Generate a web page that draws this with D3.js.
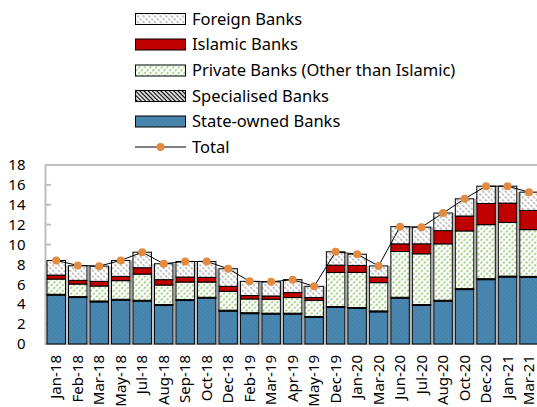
<!DOCTYPE html>
<html>
<head>
<meta charset="utf-8">
<script src="https://cdn.jsdelivr.net/npm/d3@7"></script>
<style>
  body { margin: 0; background: #fff; }
  svg { display: block; font-family: "Noto Sans", "Open Sans", sans-serif; }
</style>
</head>
<body>
<div id="chart"></div>
<script>
// chart size
var width = 537;
var height = 407;

// months on the x axis
const months = ["Jan-18", "Feb-18", "Mar-18", "May-18", "Jul-18", "Aug-18", "Sep-18", "Oct-18", "Dec-18",
  "Feb-19", "Mar-19", "Apr-19", "May-19", "Dec-19", "Jan-20", "Mar-20", "Jun-20", "Jul-20", "Aug-20",
  "Oct-20", "Dec-20", "Jan-21", "Mar-21"];

// values per bank group
const stateOwned  = [4.9, 4.67, 4.23, 4.4, 4.3, 3.87, 4.37, 4.6, 3.3, 3.05, 3.0, 3.0, 2.67, 3.67, 3.57, 3.23, 4.6, 3.87, 4.3, 5.47, 6.47, 6.73, 6.7];
const specialised = [0.1, 0.1, 0.1, 0.1, 0.1, 0.1, 0.1, 0.1, 0.1, 0.1, 0.1, 0.1, 0.1, 0.1, 0.1, 0.1, 0.1, 0.1, 0.1, 0.1, 0.1, 0.1, 0.1];
const privateBanks = [1.53, 1.26, 1.5, 1.87, 2.63, 1.96, 1.76, 1.53, 1.9, 1.38, 1.4, 1.57, 1.63, 3.43, 3.53, 2.84, 4.6, 5.1, 5.67, 5.8, 5.43, 5.4, 4.7];
const islamic     = [0.4, 0.37, 0.47, 0.43, 0.64, 0.54, 0.5, 0.47, 0.5, 0.34, 0.33, 0.5, 0.27, 0.73, 0.7, 0.56, 0.77, 1.0, 1.33, 1.5, 2.13, 1.94, 1.93];
const foreign     = [1.47, 1.47, 1.53, 1.6, 1.56, 1.6, 1.57, 1.6, 1.77, 1.43, 1.42, 1.3, 1.13, 1.34, 1.13, 1.12, 1.73, 1.68, 1.77, 1.73, 1.74, 1.7, 1.84];
const total       = [8.4, 7.9, 7.83, 8.4, 9.23, 8.07, 8.3, 8.3, 7.57, 6.3, 6.25, 6.47, 5.8, 9.27, 9.03, 7.85, 11.8, 11.75, 13.17, 14.6, 15.87, 15.87, 15.27];

const yTicks = [0, 2, 4, 6, 8, 10, 12, 14, 16, 18];

// stack order, bottom to top
const keys = ["state", "spec", "priv", "isl", "forg"];
const legendItems = [
  { key: "forg", label: "Foreign Banks" },
  { key: "isl", label: "Islamic Banks" },
  { key: "priv", label: "Private Banks (Other than Islamic)" },
  { key: "spec", label: "Specialised Banks" },
  { key: "state", label: "State-owned Banks" }
];

const rows = months.map((m, i) => ({
  month: m, state: stateOwned[i], spec: specialised[i], priv: privateBanks[i],
  isl: islamic[i], forg: foreign[i], total: total[i]
}));

let svg = d3.select("#chart").append("svg")
  .attr("width", width)
  .attr("height", height);

// hatch patterns
let defs = svg.append("defs");
function hatch(id, bg, color, angle, size, sw, dash) {
  let p = defs.append("pattern")
    .attr("id", id)
    .attr("patternUnits", "userSpaceOnUse")
    .attr("width", size).attr("height", size)
    .attr("patternTransform", "rotate(" + angle + ")");
  p.append("rect").attr("width", size).attr("height", size).attr("fill", bg);
  let l = p.append("line")
    .attr("x1", size / 2).attr("y1", 0).attr("x2", size / 2).attr("y2", size)
    .attr("stroke", color).attr("stroke-width", sw);
  if (dash) l.attr("stroke-dasharray", dash);
}
hatch("p-forg", "#ffffff", "#a0a0a0", -45, 4, 1.3, "2.5,1.5");
hatch("p-priv", "#ffffff", "#8cc063", 45, 4, 1.4, "2.5,1.5");
hatch("p-spec", "#ffffff", "#000000", -45, 3, 1.3);
hatch("p-state", "#4a87b1", "#417da6", -45, 3, 0.8);

const fills = {
  forg: "url(#p-forg)", isl: "#c00000", priv: "url(#p-priv)",
  spec: "url(#p-spec)", state: "url(#p-state)"
};

// scales
let x = d3.scaleBand()
  .domain(months)
  .range([45.5, 45.5 + 23 * 21.49])
  .paddingInner(0.14)
  .paddingOuter(0.07);

let y = d3.scaleLinear().domain([0, 18]).range([344, 165]);

// gray separators between neighbouring bars
const step = x.step();
svg.append("g").selectAll("line")
  .data(rows.slice(0, -1))
  .join("line")
  .attr("x1", d => x(d.month) + x.bandwidth() + (step - x.bandwidth()) / 2)
  .attr("x2", d => x(d.month) + x.bandwidth() + (step - x.bandwidth()) / 2)
  .attr("y1", y(0))
  .attr("y2", (d, i) => y(Math.min(d.total, rows[i + 1].total)))
  .attr("stroke", "#a6a6a6")
  .attr("stroke-width", 1.2);

// plot frame
svg.append("path")
  .attr("d", "M539.5,165H45.5V344H539.5")
  .attr("fill", "none")
  .attr("stroke", "#bfbfbf")
  .attr("stroke-width", 2);

// y axis ticks and labels
svg.append("g").selectAll("line")
  .data(yTicks.slice(1, -1))
  .join("line")
  .attr("x1", 45.5).attr("x2", 51)
  .attr("y1", d => y(d)).attr("y2", d => y(d))
  .attr("stroke", "#bfbfbf").attr("stroke-width", 2);

svg.append("g").selectAll("text")
  .data(yTicks)
  .join("text")
  .attr("x", 25.5)
  .attr("y", d => y(d))
  .attr("dy", "0.35em")
  .attr("text-anchor", "end")
  .style("font-size", "15px")
  .attr("fill", "#000")
  .text(d => d);

// x labels
svg.append("g").selectAll("text")
  .data(months)
  .join("text")
  .attr("transform", d => "translate(" + (x(d) + x.bandwidth() / 2) + ",355) rotate(-90)")
  .attr("dy", "0.35em")
  .attr("text-anchor", "end")
  .style("font-size", "15px")
  .attr("fill", "#000")
  .text(d => d);

// stacked bars
let series = d3.stack().keys(keys)(rows);
svg.append("g").selectAll("g")
  .data(series)
  .join("g")
  .attr("fill", d => fills[d.key])
  .selectAll("rect")
  .data(d => d)
  .join("rect")
  .attr("x", d => x(d.data.month))
  .attr("y", d => y(d[1]))
  .attr("width", x.bandwidth())
  .attr("height", d => y(d[0]) - y(d[1]))
  .attr("stroke", "#000")
  .attr("stroke-width", 1);

// total line and markers
let line = d3.line()
  .x(d => x(d.month) + x.bandwidth() / 2)
  .y(d => y(d.total));

svg.append("path")
  .datum(rows)
  .attr("d", line)
  .attr("fill", "none")
  .attr("stroke", "#000")
  .attr("stroke-width", 1);

svg.append("g").selectAll("circle")
  .data(rows)
  .join("circle")
  .attr("cx", d => x(d.month) + x.bandwidth() / 2)
  .attr("cy", d => y(d.total))
  .attr("r", 4)
  .attr("fill", "#e38b40");

// legend
let legend = svg.append("g");
const rowY = [19, 44.5, 70.5, 96, 121.5, 147];
legendItems.forEach((item, i) => {
  legend.append("rect")
    .attr("x", 135.5).attr("y", rowY[i] - 5.5)
    .attr("width", 50).attr("height", 11)
    .attr("fill", fills[item.key])
    .attr("stroke", "#000").attr("stroke-width", 1);
  legend.append("text")
    .attr("x", 192).attr("y", rowY[i])
    .attr("dy", "0.35em")
    .style("font-size", "16.5px")
    .text(item.label);
});
legend.append("line")
  .attr("x1", 135).attr("x2", 186)
  .attr("y1", rowY[5]).attr("y2", rowY[5])
  .attr("stroke", "#000").attr("stroke-width", 1);
legend.append("circle")
  .attr("cx", 160.5).attr("cy", rowY[5]).attr("r", 4)
  .attr("fill", "#e38b40");
legend.append("text")
  .attr("x", 192).attr("y", rowY[5])
  .attr("dy", "0.35em")
  .style("font-size", "16.5px")
  .text("Total");
</script>
</body>
</html>
